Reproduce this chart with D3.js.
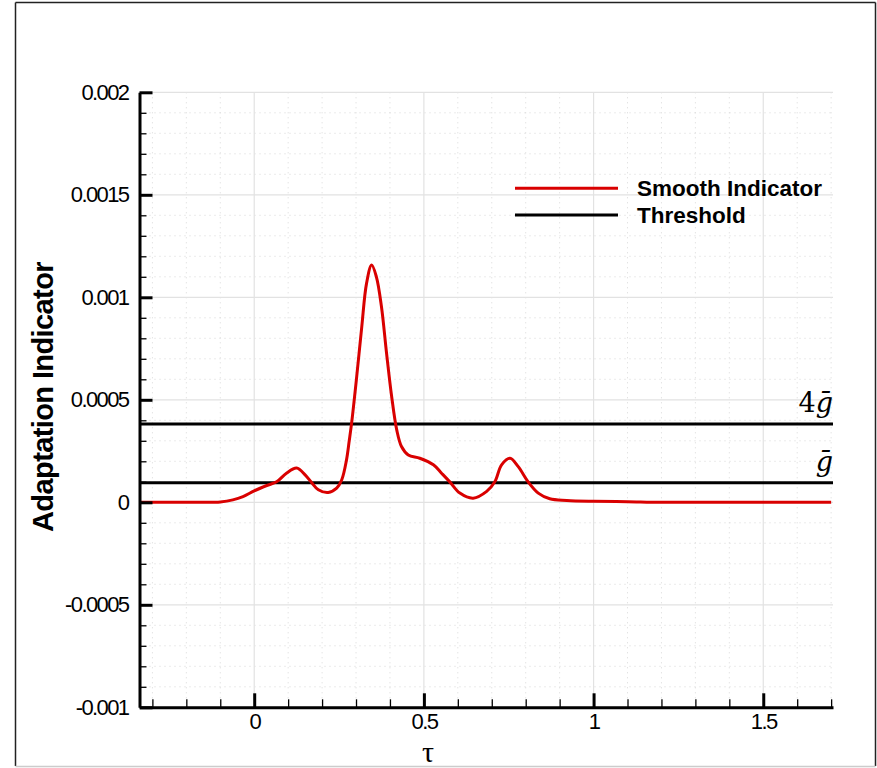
<!DOCTYPE html>
<html>
<head>
<meta charset="utf-8">
<script src="https://cdn.jsdelivr.net/npm/d3@7"></script>
<style>
  html, body { margin: 0; padding: 0; background: #fff; }
  svg { display: block; }
</style>
</head>
<body>
<svg id="chart" width="877" height="768"></svg>
<script>
// ---- data ----
const tau = [-0.338, -0.25, -0.15, -0.1, -0.063, -0.033, 0.0, 0.037, 0.066, 0.095, 0.125, 0.15, 0.169, 0.189, 0.218, 0.243, 0.258, 0.272, 0.28, 0.287, 0.302, 0.317, 0.331, 0.346, 0.36, 0.375, 0.39, 0.405, 0.42, 0.434, 0.454, 0.488, 0.528, 0.552, 0.577, 0.606, 0.645, 0.685, 0.709, 0.729, 0.754, 0.778, 0.808, 0.837, 0.871, 0.921, 1.0, 1.1, 1.2, 1.4, 1.7];
const indicator = [0, 0, 0, 0.000002, 0.000012, 0.000028, 0.000056, 0.000082, 0.0001, 0.000142, 0.000167, 0.000134, 0.0000965, 0.000061, 0.000048, 0.000069, 0.00011, 0.000207, 0.0003, 0.000386, 0.000613, 0.000857, 0.001068, 0.001157, 0.0011, 0.000954, 0.000727, 0.000516, 0.000353, 0.000272, 0.000231, 0.000215, 0.000183, 0.000142, 0.0000984, 0.000045, 0.00002, 0.000053, 0.0001, 0.000183, 0.000215, 0.000174, 0.000098, 0.000045, 0.000017, 0.000009, 0.000005, 0.000003, 0, 0, 0];
const thresholds = [0.0000955, 0.000382];
const thresholdLabels = ["", "4"];
const xMajorTicks = [0, 0.5, 1, 1.5];
const xTickLabels = ["0", "0.5", "1", "1.5"];
const yMajorTicks = [-0.001, -0.0005, 0, 0.0005, 0.001, 0.0015, 0.002];
const yTickLabels = ["-0.001", "-0.0005", "0", "0.0005", "0.001", "0.0015", "0.002"];
const legendItems = ["Smooth Indicator", "Threshold"];

// ---- layout ----
const svg = d3.select("#chart");
const L = 139.5, R = 833, T = 92.3, B = 707.3;
const x = d3.scaleLinear().domain([-0.338, 1.7055]).range([L, R]);
const y = d3.scaleLinear().domain([-0.001, 0.002]).range([B, T]);
const red = "#d90000";

// outer frame
svg.append("line").attr("x1", 15.5).attr("x2", 875.5).attr("y1", 2.5).attr("y2", 2.5).attr("stroke", "#222").attr("stroke-width", 1.5);
svg.append("line").attr("x1", 15.5).attr("x2", 15.5).attr("y1", 2.5).attr("y2", 766).attr("stroke", "#222").attr("stroke-width", 1.5);
svg.append("line").attr("x1", 875.5).attr("x2", 875.5).attr("y1", 2.5).attr("y2", 766).attr("stroke", "#222").attr("stroke-width", 1.5);
svg.append("line").attr("x1", 15.5).attr("x2", 875.5).attr("y1", 766.5).attr("y2", 766.5).attr("stroke", "#ccc").attr("stroke-width", 1.5);

// minor ticks values
const xMinor = d3.range(-3, 18).map(i => i / 10).filter(v => !xMajorTicks.some(m => Math.abs(m - v) < 1e-9));
const yMinor = d3.range(-10, 21).map(i => i / 10000).filter(v => !yMajorTicks.some(m => Math.abs(m - v) < 1e-12));

// grid
const grid = svg.append("g");
grid.selectAll(".gxm").data(xMinor).join("line")
  .attr("x1", d => x(d)).attr("x2", d => x(d)).attr("y1", T).attr("y2", B)
  .attr("stroke", "#d8d8d8").attr("stroke-width", 1).attr("stroke-dasharray", "1,4");
grid.selectAll(".gym").data(yMinor).join("line")
  .attr("x1", L).attr("x2", R).attr("y1", d => y(d)).attr("y2", d => y(d))
  .attr("stroke", "#d8d8d8").attr("stroke-width", 1).attr("stroke-dasharray", "1,4");
grid.selectAll(".gx").data(xMajorTicks).join("line")
  .attr("x1", d => x(d)).attr("x2", d => x(d)).attr("y1", T).attr("y2", B)
  .attr("stroke", "#e2e2e2").attr("stroke-width", 1.2);
grid.selectAll(".gy").data(yMajorTicks).join("line")
  .attr("x1", L).attr("x2", R).attr("y1", d => y(d)).attr("y2", d => y(d))
  .attr("stroke", "#e2e2e2").attr("stroke-width", 1.2);

// threshold lines
svg.selectAll(".thr").data(thresholds).join("line")
  .attr("x1", L).attr("x2", R).attr("y1", d => y(d)).attr("y2", d => y(d))
  .attr("stroke", "#000").attr("stroke-width", 3);

// threshold labels
thresholds.forEach((t, i) => {
  const txt = svg.append("text")
    .attr("x", R).attr("y", y(t) - 12)
    .attr("text-anchor", "end")
    .attr("font-family", "'DejaVu Serif', 'Liberation Serif', serif")
    .attr("font-size", 27)
    .attr("fill", "#000");
  if (thresholdLabels[i]) txt.append("tspan").text(thresholdLabels[i]);
  txt.append("tspan").attr("font-style", "italic").text("\u1E21");
});

// indicator curve
const data = tau.map((t, i) => [t, indicator[i]]);
svg.append("path").datum(data)
  .attr("d", d3.line().x(d => x(d[0])).y(d => y(d[1])).curve(d3.curveCatmullRom.alpha(0.5)))
  .attr("fill", "none").attr("stroke", red).attr("stroke-width", 3)
  .attr("stroke-linejoin", "round");

// axes
const fontSans = "'Liberation Sans', Arial, Helvetica, sans-serif";
const yAxis = svg.append("g").attr("transform", `translate(${L},0)`)
  .call(d3.axisLeft(y).tickValues(yMajorTicks).tickFormat((d, i) => yTickLabels[i]).tickSizeInner(-13).tickSizeOuter(0).tickPadding(11));
yAxis.select(".domain").attr("stroke-width", 3).attr("stroke", "#000");
yAxis.selectAll(".tick line").attr("stroke-width", 3).attr("stroke", "#000");
yAxis.selectAll("text").attr("font-family", fontSans).attr("font-size", 22).attr("letter-spacing", -1.6).attr("fill", "#000");
const yMinorAxis = svg.append("g").attr("transform", `translate(${L},0)`)
  .call(d3.axisLeft(y).tickValues(yMinor).tickFormat("").tickSizeInner(-7).tickSizeOuter(0));
yMinorAxis.select(".domain").remove();
yMinorAxis.selectAll(".tick line").attr("stroke-width", 1.3).attr("stroke", "#000");

const xAxis = svg.append("g").attr("transform", `translate(0,${B})`)
  .call(d3.axisBottom(x).tickValues(xMajorTicks).tickFormat((d, i) => xTickLabels[i]).tickSizeInner(-14).tickSizeOuter(0).tickPadding(6));
xAxis.select(".domain").attr("stroke-width", 3).attr("stroke", "#000");
xAxis.selectAll(".tick line").attr("stroke-width", 3).attr("stroke", "#000");
xAxis.selectAll("text").attr("font-family", fontSans).attr("font-size", 22).attr("letter-spacing", -1.6).attr("fill", "#000");
const xMinorAxis = svg.append("g").attr("transform", `translate(0,${B})`)
  .call(d3.axisBottom(x).tickValues(xMinor).tickFormat("").tickSizeInner(-8).tickSizeOuter(0));
xMinorAxis.select(".domain").remove();
xMinorAxis.selectAll(".tick line").attr("stroke-width", 1.3).attr("stroke", "#000");

// axis titles
svg.append("text")
  .attr("transform", `translate(53,397) rotate(-90)`)
  .attr("text-anchor", "middle")
  .attr("font-family", fontSans).attr("font-weight", "bold").attr("font-size", 29)
  .attr("letter-spacing", -0.6)
  .text("Adaptation Indicator");
svg.append("text")
  .attr("x", 428).attr("y", 762)
  .attr("text-anchor", "middle")
  .attr("font-family", "'Liberation Serif', 'DejaVu Serif', serif").attr("font-size", 30)
  .text("τ");

// legend
const legendY = [188.3, 215];
const legendColors = [red, "#000"];
const lg = svg.append("g");
legendItems.forEach((name, i) => {
  lg.append("line").attr("x1", 515).attr("x2", 618).attr("y1", legendY[i]).attr("y2", legendY[i])
    .attr("stroke", legendColors[i]).attr("stroke-width", 3);
  lg.append("text").attr("x", 637).attr("y", legendY[i] + 7.5)
    .attr("font-family", fontSans).attr("font-weight", "bold").attr("font-size", 22.5)
    .text(name);
});
</script>
</body>
</html>
